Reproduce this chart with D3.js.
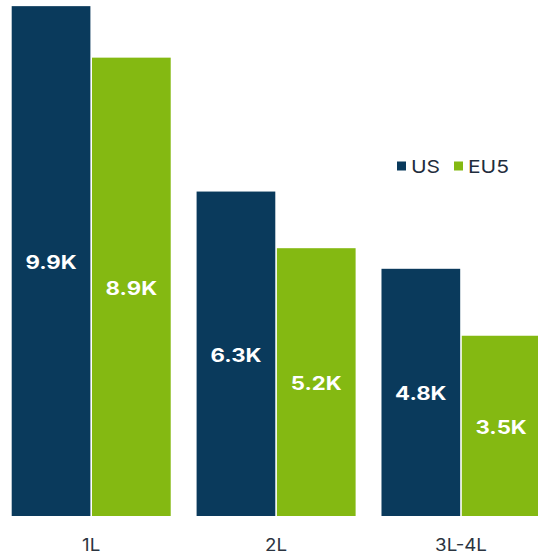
<!DOCTYPE html>
<html>
<head>
<meta charset="utf-8">
<script src="https://cdn.jsdelivr.net/npm/d3@7"></script>
<style>
  html, body { margin: 0; padding: 0; background: #ffffff; }
  svg { display: block; font-family: Inter, "Noto Sans", sans-serif; }
</style>
</head>
<body>
<svg id="chart" width="538" height="560"></svg>
<script>
// Patient counts (thousands) by line of therapy
const categories = ["1L", "2L", "3L-4L"];
const seriesNames = ["US", "EU5"];
const usValues = [9.9, 6.3, 4.8];
const eu5Values = [8.9, 5.2, 3.5];
const valueLabels = {
  US: ["9.9K", "6.3K", "4.8K"],
  EU5: ["8.9K", "5.2K", "3.5K"]
};
const colors = { US: "#0a3a5c", EU5: "#84b912" };

// Text is drawn slightly wide
const textStretch = 1.2;

const rows = categories.map((c, i) => ({
  category: c,
  values: [
    { series: "US", value: usValues[i], label: valueLabels.US[i] },
    { series: "EU5", value: eu5Values[i], label: valueLabels.EU5[i] }
  ]
}));

const svg = d3.select("#chart");

const x0 = d3.scaleBand()
  .domain(categories)
  .range([11.7, 540.5])
  .paddingInner(0.14)
  .paddingOuter(0);

const x1 = d3.scaleBand()
  .domain(seriesNames)
  .range([0, x0.bandwidth()])
  .paddingInner(0.02);

const y = d3.scaleLinear()
  .domain([0, 10])
  .range([516, 1]);

const groups = svg.append("g").selectAll("g")
  .data(rows)
  .join("g")
  .attr("transform", d => `translate(${x0(d.category)},0)`);

groups.selectAll("rect")
  .data(d => d.values)
  .join("rect")
  .attr("x", d => x1(d.series))
  .attr("y", d => y(d.value))
  .attr("width", x1.bandwidth())
  .attr("height", d => y(0) - y(d.value))
  .attr("fill", d => colors[d.series]);

groups.selectAll("g.value")
  .data(d => d.values)
  .join("g")
  .attr("class", "value")
  .attr("transform", d =>
    `translate(${x1(d.series) + x1.bandwidth() / 2},${(y(d.value) + y(0)) / 2}) scale(${textStretch},1)`)
  .append("text")
  .attr("dy", "0.42em")
  .attr("text-anchor", "middle")
  .attr("fill", "#ffffff")
  .attr("font-size", 18.5)
  .attr("font-weight", 700)
  .text(d => d.label);

// Category axis labels
const xAxis = d3.axisBottom(x0).tickSize(0).tickPadding(0);
const axisG = svg.append("g")
  .attr("transform", `translate(0,${y(0)})`)
  .call(xAxis);
axisG.select(".domain").remove();
axisG.selectAll(".tick text")
  .attr("y", 0)
  .attr("dy", "0.36em")
  .attr("transform", `translate(0,29) scale(${1.1},1)`)
  .attr("font-family", "Inter, 'Noto Sans', sans-serif")
  .attr("font-size", 17)
  .attr("fill", "#2b3440");

// Legend
const legendItems = [
  { name: "US", x: 397 },
  { name: "EU5", x: 454 }
];
const legend = svg.append("g").attr("transform", "translate(0,166)");
const li = legend.selectAll("g")
  .data(legendItems)
  .join("g")
  .attr("transform", d => `translate(${d.x},0)`);
li.append("rect")
  .attr("x", 0).attr("y", -4.5)
  .attr("width", 9).attr("height", 9)
  .attr("fill", d => colors[d.name]);
li.append("text")
  .attr("transform", `translate(14,0) scale(${textStretch},1)`)
  .attr("dy", "0.4em")
  .attr("font-size", 17.5)
  .attr("fill", "#1f2d3d")
  .text(d => d.name);
</script>
</body>
</html>
